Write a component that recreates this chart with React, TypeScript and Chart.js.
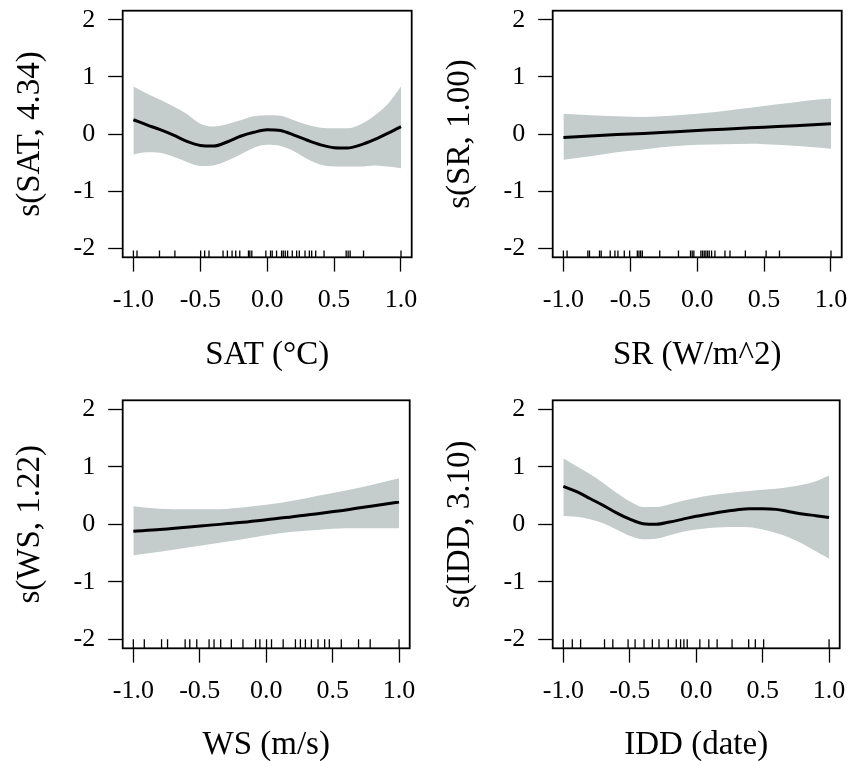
import React, { useEffect, useRef } from "react";
import { Chart, registerables } from "chart.js";

Chart.register(...registerables);

// ---------- data ----------
const xTickValues = [-1, -0.5, 0, 0.5, 1];
const yTickValues = [-2, -1, 0, 1, 2];

const grid21 = [-1, -0.9, -0.8, -0.7, -0.6, -0.5, -0.4, -0.3, -0.2, -0.1, 0, 0.1, 0.2, 0.3, 0.4, 0.5, 0.6, 0.7, 0.8, 0.9, 1];
const grid11 = [-1, -0.8, -0.6, -0.4, -0.2, 0, 0.2, 0.4, 0.6, 0.8, 1];

const satFit = [0.25, 0.16, 0.075, -0.02, -0.13, -0.2, -0.21, -0.14, -0.04, 0.03, 0.075, 0.06, -0.02, -0.11, -0.19, -0.24, -0.245, -0.19, -0.1, 0.01, 0.13];
const satUpper = [0.83, 0.71, 0.6, 0.48, 0.35, 0.18, 0.13, 0.17, 0.24, 0.31, 0.33, 0.32, 0.24, 0.16, 0.11, 0.1, 0.1, 0.17, 0.32, 0.52, 0.83];
const satLower = [-0.36, -0.32, -0.33, -0.4, -0.49, -0.56, -0.55, -0.47, -0.36, -0.24, -0.19, -0.21, -0.3, -0.44, -0.54, -0.57, -0.57, -0.57, -0.55, -0.57, -0.6];
const satRug = [-1.0, -0.973, -0.805, -0.69, -0.4975, -0.4675, -0.435, -0.33, -0.2975, -0.2625, -0.235, -0.205, -0.14, -0.13, -0.115, -0.01, 0.025, 0.0375, 0.07, 0.1075, 0.12, 0.135, 0.1525, 0.1875, 0.22, 0.24, 0.2825, 0.315, 0.3325, 0.3625, 0.425, 0.59, 0.605, 0.62, 0.72, 1.0];

const srFit = [-0.06, -0.035, -0.01, 0.01, 0.035, 0.06, 0.085, 0.11, 0.13, 0.155, 0.18];
const srUpper = [0.355, 0.33, 0.31, 0.3, 0.32, 0.355, 0.405, 0.46, 0.52, 0.58, 0.62];
const srLower = [-0.45, -0.39, -0.32, -0.27, -0.22, -0.19, -0.18, -0.17, -0.19, -0.22, -0.26];
const srRug = [-1.0, -0.9725, -0.8175, -0.805, -0.73, -0.7175, -0.65, -0.615, -0.5925, -0.545, -0.505, -0.4475, -0.435, -0.4225, -0.41, -0.28, -0.14, -0.05, -0.0375, -0.025, 0.0275, 0.04, 0.0525, 0.065, 0.0775, 0.09, 0.1075, 0.1325, 0.2075, 0.245, 0.36, 0.515, 0.615, 1.0];

const wsFit = [-0.12, -0.09, -0.05, -0.01, 0.03, 0.08, 0.13, 0.19, 0.25, 0.32, 0.39];
const wsUpper = [0.315, 0.27, 0.26, 0.26, 0.29, 0.34, 0.41, 0.5, 0.59, 0.69, 0.8];
const wsLower = [-0.54, -0.48, -0.41, -0.34, -0.27, -0.19, -0.13, -0.095, -0.07, -0.07, -0.07];
const wsRug = [-1.0, -0.9175, -0.7875, -0.7425, -0.61, -0.575, -0.5225, -0.43, -0.3925, -0.3425, -0.2625, -0.175, -0.08, -0.0475, 0.0025, 0.04, 0.1275, 0.22, 0.2575, 0.295, 0.34, 0.39, 0.44, 0.475, 0.565, 0.695, 0.7825, 1.0];

const iddFit = [0.66, 0.57, 0.45, 0.33, 0.2, 0.09, 0.01, 0.0, 0.04, 0.09, 0.14, 0.18, 0.22, 0.25, 0.27, 0.27, 0.26, 0.22, 0.18, 0.15, 0.12];
const iddUpper = [1.15, 1.01, 0.875, 0.72, 0.55, 0.4, 0.3, 0.3, 0.35, 0.41, 0.46, 0.5, 0.53, 0.56, 0.58, 0.6, 0.62, 0.65, 0.69, 0.75, 0.85];
const iddLower = [0.145, 0.13, 0.09, 0.02, -0.09, -0.2, -0.26, -0.25, -0.19, -0.13, -0.09, -0.065, -0.05, -0.045, -0.05, -0.09, -0.15, -0.23, -0.34, -0.47, -0.6];
const iddRug = [-1.0, -0.9325, -0.87, -0.69, -0.6275, -0.5125, -0.46, -0.3925, -0.33, -0.28, -0.21, -0.15, -0.1175, -0.0925, -0.0675, 0.0275, 0.095, 0.1575, 0.27, 0.395, 0.445, 0.5075, 1.0];

// ---------- layout / style ----------
const CANVAS_W = 420;
const CANVAS_H = 371;
const X_MIN = -1.08, X_MAX = 1.08, Y_MIN = -2.16, Y_MAX = 2.16;
const BAND = "rgb(196,205,204)";
const FONT = "'Liberation Serif', 'Times New Roman', serif";

const rows = [
  { top: 0, padTop: 10.7, areaBottom: 257.3, rugLen: 6.7 },
  { top: 390, padTop: 10.3, areaBottom: 258.3, rugLen: 9 },
];
const cols = [0, 430];

type PanelDef = {
  xLabel: string; yLabel: string; x: number[]; fit: number[]; upper: number[]; lower: number[]; rug: number[]; row: number; col: number;
};

const panels: PanelDef[] = [
  { xLabel: "SAT (°C)", yLabel: "s(SAT, 4.34)", x: grid21, fit: satFit, upper: satUpper, lower: satLower, rug: satRug, row: 0, col: 0 },
  { xLabel: "SR (W/m^2)", yLabel: "s(SR, 1.00)", x: grid11, fit: srFit, upper: srUpper, lower: srLower, rug: srRug, row: 0, col: 1 },
  { xLabel: "WS (m/s)", yLabel: "s(WS, 1.22)", x: grid11, fit: wsFit, upper: wsUpper, lower: wsLower, rug: wsRug, row: 1, col: 0 },
  { xLabel: "IDD (date)", yLabel: "s(IDD, 3.10)", x: grid21, fit: iddFit, upper: iddUpper, lower: iddLower, rug: iddRug, row: 1, col: 1 },
];

const framePlugin = {
  id: "frameBox",
  afterDraw(chart: any) {
    const { ctx, chartArea } = chart;
    ctx.save();
    ctx.strokeStyle = "#000";
    ctx.lineWidth = 1.8;
    ctx.strokeRect(chartArea.left, chartArea.top, chartArea.right - chartArea.left, chartArea.bottom - chartArea.top);
    ctx.restore();
  },
};

const zeroPad = (s: any) => {
  s.paddingTop = 0;
  s.paddingBottom = 0;
  s.paddingLeft = 0;
  s.paddingRight = 0;
};

function Panel({ p }: { p: PanelDef }) {
  const ref = useRef<HTMLCanvasElement | null>(null);
  useEffect(() => {
    if (!ref.current) return;
    const row = rows[p.row];
    const toXY = (ys: number[]) => p.x.map((xv, i) => ({ x: xv, y: ys[i] }));
    const chart = new Chart(ref.current, {
      type: "line",
      data: {
        datasets: [
          { data: toXY(p.lower), borderWidth: 0, pointRadius: 0, fill: false, order: 4, cubicInterpolationMode: "monotone" } as any,
          { data: toXY(p.upper), borderWidth: 0, pointRadius: 0, fill: "-1", backgroundColor: BAND, order: 3, cubicInterpolationMode: "monotone" } as any,
          { data: toXY(p.fit), borderColor: "#000", borderWidth: 3, pointRadius: 0, fill: false, order: 1, cubicInterpolationMode: "monotone" } as any,
          {
            data: p.rug.map((v) => ({ x: v, y: Y_MIN })),
            showLine: false,
            pointStyle: "line",
            rotation: 90,
            pointRadius: row.rugLen,
            pointBorderWidth: 1.3,
            pointBorderColor: "#000",
            pointBackgroundColor: "#000",
            clip: 0,
            order: 2,
          } as any,
        ],
      },
      options: {
        animation: false,
        responsive: false,
        devicePixelRatio: 1,
        events: [],
        layout: { padding: { left: 0, top: row.padTop, right: CANVAS_W - 411.7, bottom: 0 } },
        plugins: { legend: { display: false }, tooltip: { enabled: false } },
        scales: {
          x: {
            type: "linear",
            min: X_MIN,
            max: X_MAX,
            afterBuildTicks: (s: any) => { s.ticks = xTickValues.map((v) => ({ value: v })); },
            afterFit: (s: any) => { s.height = CANVAS_H - row.areaBottom; zeroPad(s); },
            ticks: {
              autoSkip: false, maxRotation: 0, minRotation: 0, padding: 13, color: "#000",
              font: { family: FONT, size: 26 },
              callback: (v: any) => Number(v).toFixed(1),
            },
            grid: { display: true, drawOnChartArea: false, drawTicks: true, tickLength: 14.3, tickWidth: 1.3, tickColor: "#000" },
            border: { display: false },
            title: { display: true, text: p.xLabel, color: "#000", font: { family: FONT, size: 33, lineHeight: 0.9 }, padding: { top: 0, bottom: 0.55 } },
          },
          y: {
            type: "linear",
            min: Y_MIN,
            max: Y_MAX,
            afterBuildTicks: (s: any) => { s.ticks = yTickValues.map((v) => ({ value: v })); },
            afterFit: (s: any) => { s.width = 122.7; zeroPad(s); },
            ticks: {
              autoSkip: false, padding: 13, color: "#000",
              font: { family: FONT, size: 26 },
              callback: (v: any) => String(v),
            },
            grid: { display: true, drawOnChartArea: false, drawTicks: true, tickLength: 14.5, tickWidth: 1.3, tickColor: "#000" },
            border: { display: false },
            title: { display: true, text: p.yLabel, color: "#000", font: { family: FONT, size: 33, lineHeight: 0.9 }, padding: { top: 15.2, bottom: 0 } },
          },
        },
      } as any,
      plugins: [framePlugin],
    });
    return () => chart.destroy();
  }, [p]);
  return (
    <canvas
      ref={ref}
      width={CANVAS_W}
      height={CANVAS_H}
      style={{ position: "absolute", left: cols[p.col], top: rows[p.row].top, width: CANVAS_W, height: CANVAS_H }}
    />
  );
}

export default function App() {
  return (
    <div style={{ position: "fixed", left: 0, top: 0, width: 850, height: 761, background: "#fff", overflow: "hidden" }}>
      {panels.map((p, i) => (
        <Panel key={i} p={p} />
      ))}
    </div>
  );
}
